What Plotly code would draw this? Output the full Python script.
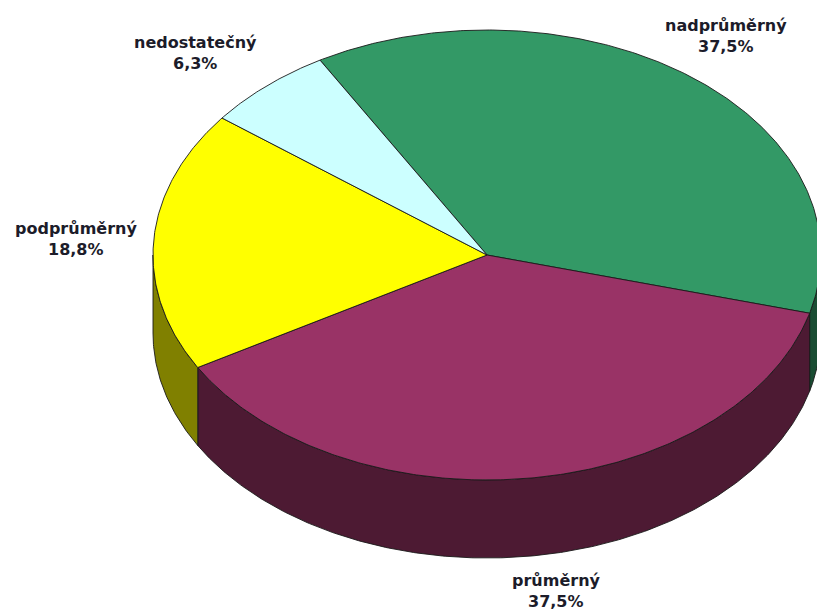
import numpy as np
import plotly.graph_objects as go
from decimal import Decimal, ROUND_HALF_UP

# Hodnocení – počty žáků v jednotlivých kategoriích
categories = ["nadprůměrný", "průměrný", "podprůměrný", "nedostatečný"]
counts = [6, 6, 3, 1]

top_colors = ["#339966", "#993366", "#FFFF00", "#CCFFFF"]
side_colors = ["#1A4D33", "#4D1A33", "#808000", "#668080"]

# Geometry of the tilted pie (plot area is mapped 1:1 to pixels)
W, H = 817, 610
CX, CY = 487, 255        # centre of the top face
RX, RY = 334, 225        # ellipse radii of the top face
DEPTH = 78               # thickness of the pie
START = 120.0            # angle where the first slice begins (clockwise)
EDGE = "#1a1a1a"


def arc(t0, t1, drop=0.0, n=None):
    if n is None:
        n = max(2, int(abs(t1 - t0) * 2) + 2)
    t = np.radians(np.linspace(t0, t1, n))
    return CX + RX * np.cos(t), CY - RY * np.sin(t) + drop


def pct_text(v, total):
    p = Decimal(v) * 100 / Decimal(total)
    p = p.quantize(Decimal("0.1"), rounding=ROUND_HALF_UP)
    return f"{p}".replace(".", ",") + "%"


total = sum(counts)
spans = []
a = START
for v in counts:
    sweep = 360.0 * v / total
    spans.append((a, a - sweep))   # clockwise: from a down to a - sweep
    a -= sweep

fig = go.Figure()

# Front walls (only the part of each slice facing the viewer, sin(t) < 0)
for (s, e), col in zip(spans, side_colors):
    for k in (-1, 0, 1):
        lo = max(e, -180 + 360 * k)
        hi = min(s, 0 + 360 * k)
        if hi - lo <= 0.01:
            continue
        xt, yt = arc(lo, hi)
        xb, yb = arc(hi, lo, drop=DEPTH)
        xs = np.concatenate([xt, xb, xt[:1]])
        ys = np.concatenate([yt, yb, yt[:1]])
        fig.add_trace(go.Scatter(
            x=xs, y=ys, mode="lines", fill="toself", fillcolor=col,
            line=dict(color=EDGE, width=0.9), hoverinfo="skip",
            showlegend=False))

# Top faces of the slices
for (s, e), col, name in zip(spans, top_colors, categories):
    xa, ya = arc(s, e)
    xs = np.concatenate([[CX], xa, [CX]])
    ys = np.concatenate([[CY], ya, [CY]])
    fig.add_trace(go.Scatter(
        x=xs, y=ys, mode="lines", fill="toself", fillcolor=col,
        line=dict(color=EDGE, width=0.9), name=name, hoverinfo="skip",
        showlegend=False))

# Category labels with percentages (two lines each)
label_pos = [(726, 25), (556, 580), (76, 228), (195, 42)]
LINE_GAP = 21
font = dict(family="DejaVu Sans", size=16, color="#1c1c2a")
for name, v, (lx, ly) in zip(categories, counts, label_pos):
    fig.add_annotation(x=lx, y=ly, text=f"<b>{name}</b>", showarrow=False,
                       xanchor="center", yanchor="middle", font=font)
    fig.add_annotation(x=lx, y=ly + LINE_GAP, text=f"<b>{pct_text(v, total)}</b>",
                       showarrow=False, xanchor="center", yanchor="middle",
                       font=font)

fig.update_xaxes(range=[0, W], visible=False, fixedrange=True)
fig.update_yaxes(range=[H, 0], visible=False, fixedrange=True)
fig.update_layout(
    width=W, height=H,
    margin=dict(l=0, r=0, t=0, b=0),
    plot_bgcolor="white", paper_bgcolor="white",
)

fig.write_html("out.html")
